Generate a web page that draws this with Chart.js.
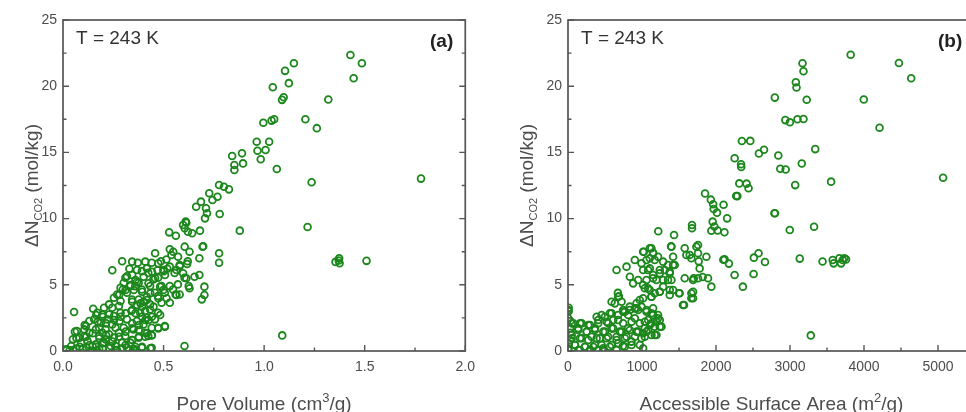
<!DOCTYPE html>
<html>
<head>
<meta charset="utf-8">
<script src="https://cdn.jsdelivr.net/npm/chart.js@4.4.1/dist/chart.umd.min.js"></script>
<style>
  html, body { margin: 0; padding: 0; background: #fff; width: 966px; height: 412px; overflow: hidden; }
  canvas { position: absolute; top: 0; }
  #chartA { left: 0; }
  #chartB { left: 483px; }
</style>
</head>
<body>
<canvas id="chartA" width="483" height="412"></canvas>
<canvas id="chartB" width="500" height="412"></canvas>
<script>
// Data: [pore volume (cm3/g), delta N CO2 (mol/kg)]
const poreVolumePoints = [
  // sparse upper part
  [1.429, 22.36], [1.486, 21.73], [1.445, 20.6], [1.148, 21.73], [1.104, 21.16], [1.123, 20.23],
  [1.043, 19.92], [1.097, 19.17], [1.089, 18.97], [1.319, 19.0], [1.205, 17.5], [1.262, 16.83],
  [0.996, 17.24], [1.037, 17.4], [1.05, 17.5], [0.963, 15.81], [1.025, 15.81], [0.967, 15.13],
  [1.007, 15.18], [0.983, 14.48], [0.841, 14.73], [0.89, 14.93], [0.852, 14.05], [0.852, 13.67],
  [0.895, 14.17], [1.063, 13.75], [1.236, 12.74], [1.78, 13.02], [0.776, 12.54], [0.8, 12.41],
  [0.825, 12.21], [0.727, 11.91], [0.743, 11.4], [0.768, 11.65], [0.686, 11.28], [0.711, 10.78],
  [0.662, 10.9], [0.716, 10.4], [0.706, 10.02], [0.779, 10.35], [1.216, 9.37], [0.61, 9.77],
  [0.605, 9.27], [0.621, 9.01], [0.642, 8.89], [0.681, 9.09], [0.528, 8.96], [0.561, 8.71],
  [0.879, 9.09], [0.613, 9.69], [0.597, 9.52], [1.509, 6.81], [1.373, 7.01], [1.371, 6.83],
  [1.375, 6.63], [1.355, 6.73], [1.09, 1.18], [0.604, 0.38],
  // middle band
  [0.697, 7.91], [0.776, 7.38], [0.776, 6.67], [0.605, 7.88], [0.629, 7.5], [0.694, 7.88],
  [0.678, 7.0], [0.62, 6.78], [0.617, 6.58], [0.531, 7.68], [0.548, 7.5], [0.539, 7.25],
  [0.572, 7.12], [0.458, 7.38], [0.487, 6.78], [0.501, 6.03], [0.519, 6.21], [0.678, 5.74],
  [0.703, 4.86], [0.703, 4.23], [0.69, 3.9], [0.654, 5.61], [0.629, 4.74], [0.613, 5.49],
  [0.597, 5.87], [0.58, 6.5], [0.564, 6.12], [0.531, 6.37], [0.507, 5.74], [0.499, 6.12],
  [0.474, 6.62], [0.442, 5.99], [0.417, 6.24], [0.409, 6.75], [0.368, 6.12], [0.344, 6.75],
  [0.564, 4.23], [0.515, 3.98], [0.499, 4.61], [0.531, 4.9], [0.506, 4.4], [0.56, 4.27],
  [0.604, 5.53], [0.625, 4.9], [0.245, 6.1], [0.294, 6.78], [0.31, 5.53], [0.335, 4.9],
  [0.297, 4.65], [0.376, 5.15], [0.392, 4.65], [0.433, 4.9], [0.457, 4.4], [0.473, 4.15],
  [0.344, 5.74], [0.368, 5.23], [0.401, 5.61], [0.425, 5.11], [0.458, 5.49], [0.483, 4.86],
  [0.352, 4.61], [0.393, 4.48], [0.434, 4.36], [0.474, 3.98], [0.344, 3.72], [0.385, 3.6],
  [0.417, 3.85], [0.45, 3.35], [0.269, 4.27], [0.286, 4.77], [0.302, 5.15], [0.318, 5.65],
  [0.33, 6.21], [0.359, 4.9], [0.376, 3.89], [0.424, 5.9], [0.441, 6.66], [0.473, 5.53],
  [0.49, 4.9], [0.514, 6.91], [0.555, 5.9], [0.58, 6.41], [0.571, 5.03], [0.531, 3.64],
  [0.49, 3.64], [0.433, 3.52], [0.408, 3.02], [0.343, 3.89], [0.318, 4.4], [0.286, 3.77],
  [0.253, 4.02], [0.229, 3.52], [0.372, 6.66], [0.392, 6.03], [0.47, 6.1], [0.449, 5.4],
  [0.547, 4.65], [0.58, 4.27], [0.279, 4.23], [0.311, 4.61], [0.336, 4.98], [0.36, 5.36],
  // dense lower-left cluster
  [0.055, 2.94], [0.15, 3.19], [0.506, 1.88], [0.473, 1.76], [0.441, 1.18], [0.424, 1.13],
  [0.392, 0.25], [0.351, 0.13], [0.441, 0.25], [0.507, 1.84], [0.474, 1.71], [0.442, 1.21],
  [0.425, 2.34], [0.393, 2.59], [0.36, 2.85], [0.344, 2.09], [0.377, 1.59], [0.409, 1.08],
  [0.344, 0.83], [0.393, 0.32], [0.434, 0.2], [0.36, 0.0], [0.483, 2.72],
  [0.059, 1.46], [0.067, 0.96], [0.108, 1.96], [0.165, 2.72], [0.197, 2.59], [0.173, 2.21],
  [0.214, 2.09], [0.254, 2.34], [0.287, 2.59], [0.311, 2.85], [0.344, 3.1], [0.368, 3.47],
  [0.401, 3.72], [0.417, 4.1], [0.393, 3.35], [0.116, 1.08], [0.148, 1.34], [0.181, 0.96],
  [0.214, 1.21], [0.246, 0.71], [0.279, 1.08], [0.311, 1.46], [0.344, 1.71], [0.377, 1.96],
  [0.409, 2.34], [0.442, 2.59], [0.311, 0.45], [0.344, 0.83], [0.377, 1.08], [0.417, 1.34],
  [0.132, 0.45], [0.165, 0.32], [0.197, 0.58], [0.23, 0.2], [0.263, 0.08], [0.295, 0.2],
  [0.328, 0.08], [0.36, 0.32], [0.083, 0.32], [0.05, 0.08], [0.018, 0.08],
  [0.069, 1.51], [0.049, 0.88], [0.041, 0.38], [0.016, 0.13], [0.033, 0.05], [0.09, 0.63],
  [0.114, 1.88], [0.106, 1.13], [0.131, 1.38], [0.147, 0.38], [0.118, 0.25], [0.155, 2.39],
  [0.163, 1.63], [0.18, 1.13], [0.188, 2.14], [0.196, 2.76], [0.204, 0.63], [0.18, 0.13],
  [0.212, 1.63], [0.22, 2.39], [0.229, 1.26], [0.245, 2.01], [0.253, 2.64], [0.261, 0.38],
  [0.278, 1.38], [0.281, 2.26], [0.286, 2.89], [0.302, 1.76], [0.31, 1.13], [0.318, 2.39],
  [0.335, 0.63], [0.34, 3.02], [0.351, 1.63], [0.359, 0.13], [0.367, 2.26], [0.376, 1.01],
  [0.384, 2.89], [0.4, 2.01], [0.408, 1.38], [0.416, 2.51], [0.433, 3.14], [0.441, 1.76],
  [0.457, 2.39], [0.473, 2.89], [0.065, 0.18], [0.082, 1.01], [0.098, 0.13], [0.122, 0.75],
  [0.139, 0.0], [0.163, 0.5], [0.171, 0.0], [0.196, 0.18], [0.212, 0.88], [0.237, 0.38],
  [0.253, 1.01], [0.269, 0.08], [0.294, 0.63], [0.318, 0.25], [0.106, 1.63], [0.131, 2.26],
  [0.18, 1.76], [0.196, 1.38], [0.229, 2.76], [0.261, 1.76], [0.171, 2.89], [0.204, 3.27],
  [0.245, 3.27], [0.278, 3.39]
];

// Data: [accessible surface area (m2/g), delta N CO2 (mol/kg)]
const surfaceAreaPoints = [
  // sparse upper part
  [3820, 22.38], [4472, 21.75], [4638, 20.6], [3169, 21.73], [3182, 21.13], [3079, 20.3],
  [3088, 19.9], [2795, 19.14], [3226, 18.98], [3997, 18.99], [4210, 16.86], [2937, 17.44],
  [2999, 17.28], [3101, 17.5], [3182, 17.52], [2350, 15.86], [2463, 15.87], [2580, 14.92],
  [2649, 15.2], [3341, 15.25], [2842, 14.77], [2252, 14.56], [2339, 14.1], [2341, 13.9],
  [2869, 13.76], [2941, 13.71], [3159, 14.16], [3555, 12.79], [5069, 13.08], [3070, 12.53],
  [2315, 12.66], [2413, 12.64], [2440, 12.29], [2288, 11.7], [1852, 11.9], [1930, 11.43],
  [1962, 11.08], [2102, 11.05], [1969, 10.73], [2013, 10.45], [2150, 10.02], [2797, 10.4],
  [1955, 9.77], [1978, 9.4], [2022, 9.1], [1937, 9.08], [2114, 8.97], [1676, 9.52],
  [1676, 9.27], [1220, 9.04], [1433, 8.76], [2997, 9.14], [3325, 9.39], [2273, 11.71],
  [2790, 10.4], [3132, 6.98], [3440, 6.76], [3577, 6.87], [3590, 6.62], [3667, 7.0],
  [3712, 6.87], [3734, 7.0], [3757, 6.92], [3690, 6.62], [3281, 1.18],
  // middle band
  [1393, 7.9], [1577, 7.76], [1600, 7.25], [1667, 7.0], [1735, 7.88], [1757, 7.38],
  [1870, 7.12], [1779, 6.24], [1757, 5.49], [1690, 5.36], [1577, 5.49], [1892, 5.49],
  [1937, 4.86], [1690, 4.48], [1667, 3.98], [1554, 3.47], [1500, 4.36], [1766, 6.77],
  [2099, 6.89], [2174, 6.6], [2251, 5.74], [2363, 4.86], [2508, 5.82], [2512, 7.05],
  [2575, 7.38], [2662, 6.72], [1820, 5.59], [1757, 8.0], [1699, 5.49], [1645, 7.25],
  [2116, 6.92], [1024, 7.5], [1127, 7.76], [1150, 7.42], [1172, 6.87], [1061, 6.87],
  [1285, 6.75], [1420, 7.12], [1352, 6.5], [1420, 6.5], [1015, 6.12], [1105, 6.24],
  [1150, 5.74], [1061, 5.36], [1195, 5.36], [1240, 5.87], [1307, 6.12], [1375, 5.87],
  [1352, 5.36], [1285, 4.86], [1240, 4.48], [1172, 4.36], [1105, 4.61], [1038, 4.74],
  [1127, 4.1], [1375, 4.61], [1015, 3.98], [1509, 4.36], [1667, 4.36], [1690, 3.98],
  [1568, 3.47], [656, 6.12], [791, 6.37], [836, 5.61], [903, 6.87], [880, 5.11],
  [948, 5.36], [1015, 7.5], [993, 6.62], [1105, 7.76], [1105, 7.0], [1082, 6.12],
  [1150, 7.38], [1217, 7.12], [1240, 6.12], [1285, 5.36], [1150, 5.49], [1015, 4.98],
  [1082, 4.74], [1128, 4.1], [1240, 4.48], [970, 3.85], [1375, 5.99], [1398, 5.36],
  [1442, 6.5], [1420, 4.61], [1375, 4.23], [1398, 7.88], [674, 4.39], [688, 4.14],
  // dense lower-left cluster
  [9, 3.26], [9, 3.0], [31, 2.26], [31, 1.38], [589, 3.72], [678, 4.1], [903, 3.22],
  [768, 2.97], [993, 3.35], [1061, 2.97], [1150, 2.72], [1217, 2.47], [1038, 2.21],
  [1172, 1.84], [1082, 1.59], [1195, 1.21], [1015, 1.34], [1127, 2.09], [633, 3.6],
  [724, 3.72], [836, 3.35], [926, 3.6], [948, 3.1], [1128, 2.85], [813, 2.72],
  [745, 2.97], [589, 2.85], [499, 2.59], [409, 2.34], [543, 2.09], [678, 2.34],
  [903, 2.47], [1082, 2.34], [1263, 1.84], [1038, 1.71], [926, 1.46], [813, 1.71],
  [701, 1.46], [589, 1.71], [476, 1.46], [364, 1.71], [252, 1.46], [139, 1.71],
  [50, 2.09], [162, 2.09], [274, 1.96], [50, 1.21], [185, 0.96], [319, 1.08],
  [431, 0.96], [543, 1.08], [656, 0.83], [768, 0.96], [858, 0.71], [993, 0.96],
  [1128, 1.21], [94, 0.45], [229, 0.32], [364, 0.45], [476, 0.2], [589, 0.45],
  [742, 0.38], [1015, 0.2], [27, 0.83], [139, 0.08], [296, 0.02], [409, 0.08],
  [387, 2.59], [454, 2.72], [566, 2.85], [678, 2.72], [745, 3.1], [836, 3.1],
  [926, 3.22], [1061, 3.1], [1150, 3.22], [1217, 2.72], [1195, 2.21], [1240, 1.84],
  [1105, 1.96], [971, 2.09], [859, 2.21], [745, 2.09], [611, 2.34], [522, 2.21],
  [409, 2.09], [297, 1.96], [184, 2.09], [72, 2.09], [27, 1.71], [139, 1.59],
  [252, 1.46], [364, 1.59], [499, 1.46], [611, 1.71], [723, 1.46], [836, 1.59],
  [948, 1.46], [1061, 1.46], [1173, 1.21], [1038, 1.08], [903, 1.08], [791, 1.08],
  [656, 1.08], [522, 0.96], [387, 0.96], [274, 0.83], [162, 0.96], [50, 0.96],
  [10, 0.58], [94, 0.45], [229, 0.32], [341, 0.32], [454, 0.45], [566, 0.32],
  [678, 0.58], [768, 0.32], [859, 0.45], [971, 0.45], [4, 0.08], [162, 0.08],
  [297, 0.08], [476, 0.08], [656, 0.08], [4, 3.1], [4, 2.47], [4, 0.2], [1240, 2.34]
];

// Axis ranges and tick steps
const poreVolumeRange = [0, 2.0, 0.25, 0.5];     // min, max, minor step, labelled step
const surfaceAreaRange = [0, 5500, 500, 1000];
const uptakeRange = [0, 25, 2.5, 5];

const MARKER_COLOR = '#1c871c';
const AXIS_COLOR = '#555555';
const LABEL_COLOR = '#4d4d4d';
const FONT = '"Liberation Sans", Arial, sans-serif';

function isMajor(v, step) {
  return Math.abs(v / step - Math.round(v / step)) < 1e-6;
}

// Frame on all four sides plus inward tick marks
const framePlugin = {
  id: 'frame',
  afterDatasetsDraw(chart) {
    const { ctx, chartArea: a, scales } = chart;
    ctx.save();
    ctx.strokeStyle = AXIS_COLOR;
    ctx.lineWidth = 1.7;
    ctx.strokeRect(a.left, a.top, a.right - a.left, a.bottom - a.top);
    ctx.lineWidth = 1.4;
    ctx.beginPath();
    scales.x.ticks.forEach(t => {
      const px = scales.x.getPixelForValue(t.value);
      const len = t.label ? 6 : 3.5;
      ctx.moveTo(px, a.bottom);
      ctx.lineTo(px, a.bottom - len);
    });
    scales.y.ticks.forEach(t => {
      const py = scales.y.getPixelForValue(t.value);
      const len = t.label ? 6 : 3.5;
      ctx.moveTo(a.left, py);
      ctx.lineTo(a.left + len, py);
      ctx.moveTo(a.right, py);
      ctx.lineTo(a.right - len, py);
    });
    ctx.stroke();
    ctx.restore();
  }
};

// Axis titles (with sub/superscripts) and in-plot notes
const textPlugin = {
  id: 'panelText',
  afterDraw(chart, args, opts) {
    const { ctx, chartArea: a } = chart;
    ctx.save();
    ctx.textBaseline = 'alphabetic';

    // y title: ΔN_CO2 (mol/kg), rotated
    ctx.translate(opts.yTitleX, (a.top + a.bottom) / 2);
    ctx.rotate(-Math.PI / 2);
    const parts = [
      { t: '\u0394N', size: 19, dy: 0 },
      { t: 'CO2', size: 11, dy: 4 },
      { t: ' (mol/kg)', size: 19, dy: 0 }
    ];
    let total = 0;
    parts.forEach(p => { ctx.font = p.size + 'px ' + FONT; p.w = ctx.measureText(p.t).width; total += p.w; });
    let cx = -total / 2;
    ctx.fillStyle = LABEL_COLOR;
    parts.forEach(p => {
      ctx.font = p.size + 'px ' + FONT;
      ctx.fillText(p.t, cx, p.dy);
      cx += p.w;
    });
    ctx.setTransform(1, 0, 0, 1, 0, 0);

    // x title with superscript
    const xParts = [
      { t: opts.xTitle[0], size: 19, dy: 0 },
      { t: opts.xTitle[1], size: 13, dy: -8 },
      { t: opts.xTitle[2], size: 19, dy: 0 }
    ];
    total = 0;
    xParts.forEach(p => { ctx.font = p.size + 'px ' + FONT; p.w = ctx.measureText(p.t).width; total += p.w; });
    cx = (a.left + a.right) / 2 - total / 2;
    xParts.forEach(p => {
      ctx.font = p.size + 'px ' + FONT;
      ctx.fillText(p.t, cx, 410 + p.dy);
      cx += p.w;
    });

    // temperature note and panel letter
    ctx.font = '19px ' + FONT;
    ctx.fillStyle = '#333';
    ctx.textAlign = 'left';
    ctx.fillText('T = 243 K', a.left + 13, 44);
    ctx.font = 'bold 19px ' + FONT;
    ctx.fillStyle = '#222';
    ctx.fillText(opts.letter, opts.letterX, 47);
    ctx.restore();
  }
};

function makePanel(canvasId, points, xRange, yAxisWidth, rightPad, xLabel, text) {
  return new Chart(document.getElementById(canvasId), {
    type: 'scatter',
    data: {
      datasets: [{
        data: points.map(p => ({ x: p[0], y: p[1] })),
        borderColor: MARKER_COLOR,
        backgroundColor: 'rgba(0,0,0,0)',
        borderWidth: 1.8,
        pointRadius: 3.4,
        pointHoverRadius: 3.4
      }]
    },
    options: {
      responsive: false,
      animation: false,
      devicePixelRatio: 1,
      layout: { padding: { left: 0, top: 20, right: rightPad, bottom: 0 } },
      plugins: {
        legend: { display: false },
        tooltip: { enabled: false },
        panelText: text
      },
      scales: {
        x: {
          type: 'linear',
          min: xRange[0],
          max: xRange[1],
          grid: { display: false, drawTicks: false },
          border: { display: false },
          ticks: {
            stepSize: xRange[2],
            autoSkip: false,
            maxRotation: 0,
            padding: 8,
            color: LABEL_COLOR,
            font: { family: FONT, size: 14 },
            callback: v => isMajor(v, xRange[3]) ? xLabel(v) : ''
          },
          afterFit: s => { s.height = 61; }
        },
        y: {
          type: 'linear',
          min: uptakeRange[0],
          max: uptakeRange[1],
          grid: { display: false, drawTicks: false },
          border: { display: false },
          ticks: {
            stepSize: uptakeRange[2],
            autoSkip: false,
            padding: 6,
            color: LABEL_COLOR,
            font: { family: FONT, size: 14 },
            callback: v => isMajor(v, uptakeRange[3]) ? String(Math.round(v)) : ''
          },
          afterFit: s => { s.width = yAxisWidth; }
        }
      }
    },
    plugins: [framePlugin, textPlugin]
  });
}

makePanel('chartA', poreVolumePoints, poreVolumeRange, 63, 11, v => v.toFixed(1), {
  yTitleX: 38,
  xTitle: ['Pore Volume (cm', '3', '/g)'],
  letter: '(a)',
  letterX: 430
});

makePanel('chartB', surfaceAreaPoints, surfaceAreaRange, 85, 6, v => String(Math.round(v)), {
  yTitleX: 50,
  xTitle: ['Accessible Surface Area (m', '2', '/g)'],
  letter: '(b)',
  letterX: 455
});
</script>
</body>
</html>
